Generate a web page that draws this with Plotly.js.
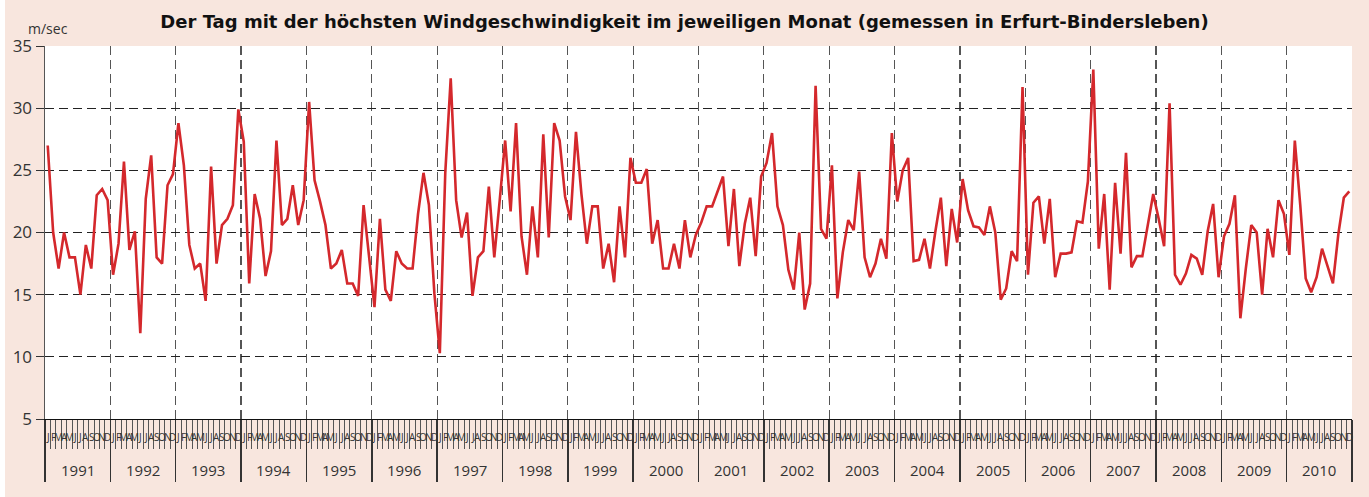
<!DOCTYPE html>
<html><head><meta charset="utf-8">
<script src="https://cdn.plot.ly/plotly-3.0.1.min.js"></script>
<style>html,body{margin:0;padding:0;background:#f8e6de}
#wrap{position:relative;width:1369px;height:497px}
#edge{position:absolute;left:0;top:0;width:5px;height:497px;background:#ffffff;z-index:5}</style>
</head><body><div id="wrap"><div id="chart" style="width:1369px;height:497px"></div><div id="edge"></div></div>
<script>
const years = [1991,1992,1993,1994,1995,1996,1997,1998,1999,2000,2001,2002,2003,2004,2005,2006,2007,2008,2009,2010];
const monthLetters = ['J','F','M','A','M','J','J','A','S','O','N','D'];

const w1991 = [27, 20, 17.1, 20, 18, 18, 15, 19, 17.1, 23, 23.5, 22.6];
const w1992 = [16.6, 19.1, 25.7, 18.6, 20.1, 11.9, 22.7, 26.2, 18, 17.5, 23.8, 24.7];
const w1993 = [28.8, 25.4, 19, 17.1, 17.5, 14.5, 25.3, 17.5, 20.6, 21.1, 22.2, 29.9];
const w1994 = [27.3, 15.9, 23.1, 21.1, 16.5, 18.5, 27.4, 20.6, 21.1, 23.8, 20.6, 22.6];
const w1995 = [30.5, 24.2, 22.5, 20.6, 17.1, 17.5, 18.6, 15.9, 15.9, 14.9, 22.2, 18];
const w1996 = [14, 21.1, 15.4, 14.5, 18.5, 17.5, 17.1, 17.1, 21.5, 24.8, 22.2, 15.1];
const w1997 = [10.3, 24.8, 32.4, 22.6, 19.6, 21.6, 14.9, 18, 18.5, 23.7, 18, 22.6];
const w1998 = [27.4, 21.7, 28.8, 19.7, 16.6, 22.1, 18, 27.9, 19.6, 28.8, 27.4, 22.9];
const w1999 = [21, 28.1, 23.1, 19.1, 22.1, 22.1, 17.1, 19.1, 16, 22.1, 18, 26];
const w2000 = [24, 24, 25.1, 19.1, 21, 17.1, 17.1, 19.1, 17.1, 21, 18, 19.8];
const w2001 = [20.8, 22.1, 22.1, 23.3, 24.5, 18.9, 23.5, 17.3, 20.7, 22.8, 18.1, 24.5];
const w2002 = [25.6, 28, 22.1, 20.6, 17, 15.4, 20, 13.8, 15.9, 31.8, 20.3, 19.5];
const w2003 = [25.4, 14.7, 18.4, 21, 20.2, 24.9, 18, 16.4, 17.5, 19.5, 17.9, 28];
const w2004 = [22.5, 25, 26, 17.7, 17.8, 19.5, 17.1, 20.1, 22.8, 17.3, 21.9, 19.2];
const w2005 = [24.3, 21.8, 20.5, 20.4, 19.8, 22.1, 20, 14.6, 15.5, 18.5, 17.7, 31.7];
const w2006 = [16.6, 22.4, 22.9, 19.1, 22.7, 16.4, 18.3, 18.3, 18.4, 20.9, 20.8, 24.1];
const w2007 = [33.1, 18.7, 23.1, 15.4, 24, 18.3, 26.4, 17.2, 18.1, 18.1, 20.7, 23.1];
const w2008 = [21.1, 18.9, 30.4, 16.6, 15.8, 16.7, 18.2, 17.9, 16.6, 20.1, 22.3, 16.4];
const w2009 = [19.7, 20.7, 23, 13.1, 17.1, 20.6, 20, 15, 20.3, 18, 22.6, 21.5];
const w2010 = [18.2, 27.4, 22.2, 16.3, 15.2, 16.4, 18.7, 17.3, 15.9, 19.9, 22.8, 23.3];

const yTicks = [5, 10, 15, 20, 25, 30, 35];
const titleText = 'Der Tag mit der höchsten Windgeschwindigkeit im jeweiligen Monat (gemessen in Erfurt-Bindersleben)';
const unitText = 'm/sec';

const windByYear = [w1991,w1992,w1993,w1994,w1995,w1996,w1997,w1998,w1999,w2000,w2001,w2002,w2003,w2004,w2005,w2006,w2007,w2008,w2009,w2010];
const values = [].concat(...windByYear);
const xIdx = values.map((_, i) => i);
const nMonths = values.length;
const yearBounds = years.map((_, i) => i * 12 - 0.5).concat([nMonths - 0.5]);

const annotations = [];
years.forEach((yr, i) => {
  annotations.push({x: i * 12 + 5.5, xref: 'x', y: 0, yref: 'paper', yanchor: 'middle', yshift: -51,
    text: String(yr), showarrow: false, font: {family: 'Open Sans, sans-serif', size: 15, color: '#333'}});
  monthLetters.forEach((m, j) => {
    annotations.push({x: i * 12 + j, xref: 'x', y: 0, yref: 'paper', yanchor: 'middle', yshift: -18,
      text: m, showarrow: false, font: {family: 'Open Sans, sans-serif', size: 10, color: '#333'}});
  });
});
annotations.push({x: 0, xref: 'paper', xanchor: 'left', xshift: -19, y: 1, yref: 'paper', yanchor: 'middle', yshift: 18,
  text: unitText, showarrow: false, font: {family: 'Open Sans, sans-serif', size: 14, color: '#333'}});

const trace = {
  x: xIdx, y: values, type: 'scatter', mode: 'lines',
  line: {color: '#d4282c', width: 2.6},
  hoverinfo: 'y'
};

const layout = {
  width: 1369, height: 497,
  paper_bgcolor: '#f8e6de', plot_bgcolor: '#ffffff',
  margin: {l: 45, r: 17, t: 46, b: 78},
  showlegend: false,
  title: {text: '<b>' + titleText + '</b>', x: 0.5, xref: 'container', xanchor: 'center',
    y: 1 - 22 / 497, yref: 'container', yanchor: 'middle',
    font: {family: 'DejaVu Sans, sans-serif', size: 18, color: '#111'}},
  xaxis: {
    range: [-0.5, nMonths - 0.5], tickmode: 'array', tickvals: yearBounds,
    showticklabels: false, ticks: 'outside', ticklen: 62, tickwidth: 1.5, tickcolor: '#333',
    showgrid: true, gridcolor: '#555', griddash: '9px,5px', gridwidth: 1.2,
    showline: true, linecolor: '#111', linewidth: 1.2, zeroline: false,
    minor: {tickmode: 'linear', tick0: -0.5, dtick: 1, ticks: 'outside', ticklen: 29, tickwidth: 1, tickcolor: '#555', showgrid: false}
  },
  yaxis: {
    range: [5, 35], tickmode: 'array', tickvals: yTicks,
    ticks: 'outside', ticklen: 8, tickcolor: '#333', tickwidth: 1,
    tickfont: {family: 'Open Sans, sans-serif', size: 17, color: '#333'},
    showgrid: true, gridcolor: '#222', griddash: '9px,5px', gridwidth: 1,
    showline: true, linecolor: '#555', linewidth: 1.5, zeroline: false
  },
  annotations: annotations
};

Plotly.newPlot('chart', [trace], layout, {displayModeBar: false, staticPlot: true});
</script></body></html>
